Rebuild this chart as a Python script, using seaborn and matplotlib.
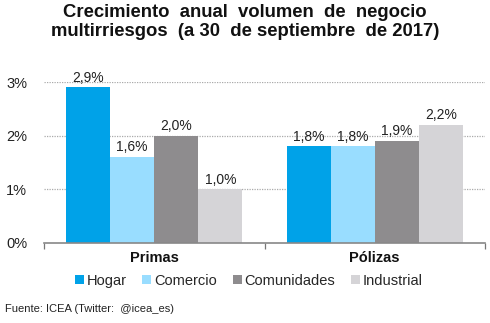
import matplotlib
matplotlib.use("Agg")
import matplotlib.pyplot as plt
import seaborn as sns
import pandas as pd
from matplotlib.patches import Patch

categories = ["Primas", "Pólizas"]
series = ["Hogar", "Comercio", "Comunidades", "Industrial"]
values = {
    "Hogar": [2.9, 1.8],
    "Comercio": [1.6, 1.8],
    "Comunidades": [2.0, 1.9],
    "Industrial": [1.0, 2.2],
}
colors = ["#00A2E8", "#99DDFF", "#8E8C8E", "#D5D4D7"]
y_ticks = [0, 1, 2, 3]
y_labels = ["0%", "1%", "2%", "3%"]

rows = [(c, s, values[s][i]) for s in series for i, c in enumerate(categories)]
df = pd.DataFrame(rows, columns=["cat", "serie", "val"])

sns.set_theme(style="white")
plt.rcParams["font.family"] = ["Liberation Sans", "DejaVu Sans"]

fig = plt.figure(figsize=(4.9, 3.23), dpi=100)
ax = fig.add_axes([44 / 490, 80 / 323, 441 / 490, 161 / 323])

sns.barplot(data=df, x="cat", y="val", hue="serie", order=categories,
            hue_order=series, palette=colors, width=0.8, saturation=1,
            dodge=True, ax=ax, legend=False, linewidth=0)

for cont in ax.containers:
    labels = [f"{v:.1f}%".replace(".", ",") for v in cont.datavalues]
    ax.bar_label(cont, labels=labels, padding=2, fontsize=10, color="#222222")

ax.set_ylim(0, 3)
ax.set_xlim(-0.5, 1.5)
ax.set_yticks(y_ticks)
ax.set_yticklabels(y_labels, fontsize=10.5, color="#222222")
for y in y_ticks[1:]:
    ax.axhline(y, color="#AAAAAA", lw=0.9, ls=(0, (1, 1)), zorder=0)

ax.set_xlabel("")
ax.set_ylabel("")
ax.set_xticks([0, 1])
ax.set_xticklabels(categories, fontsize=10.5, fontweight="bold", color="#111111")
ax.tick_params(axis="x", length=0, pad=6)
ax.tick_params(axis="y", length=0, pad=12)
ax.set_xticks([-0.5, 0.5, 1.5], minor=True)
ax.tick_params(axis="x", which="minor", length=4, width=0.9, color="#777777", direction="out", bottom=True)

for side in ["top", "right", "left"]:
    ax.spines[side].set_visible(False)
ax.spines["bottom"].set_color("#888888")
ax.spines["bottom"].set_linewidth(1.2)

fig.text(0.50, 0.988, "Crecimiento  anual  volumen  de  negocio\nmultirriesgos  (a 30  de septiembre  de 2017)",
         ha="center", va="top", fontsize=13.3, fontweight="bold", color="#111111", linespacing=1.2)

handles = [Patch(facecolor=c, edgecolor="none") for c in colors]
fig.legend(handles, series, loc="center", bbox_to_anchor=(0.508, 1 - 281 / 323), ncol=4,
           frameon=False, fontsize=10.5, handlelength=0.6, handleheight=0.6,
           handletextpad=0.2, columnspacing=1.1)

fig.text(5 / 490, 1 - 309 / 323, "Fuente: ICEA (Twitter:  @icea_es)", fontsize=8,
         color="#222222", va="center", ha="left")

fig.savefig("out.png", dpi=100, facecolor="white")
